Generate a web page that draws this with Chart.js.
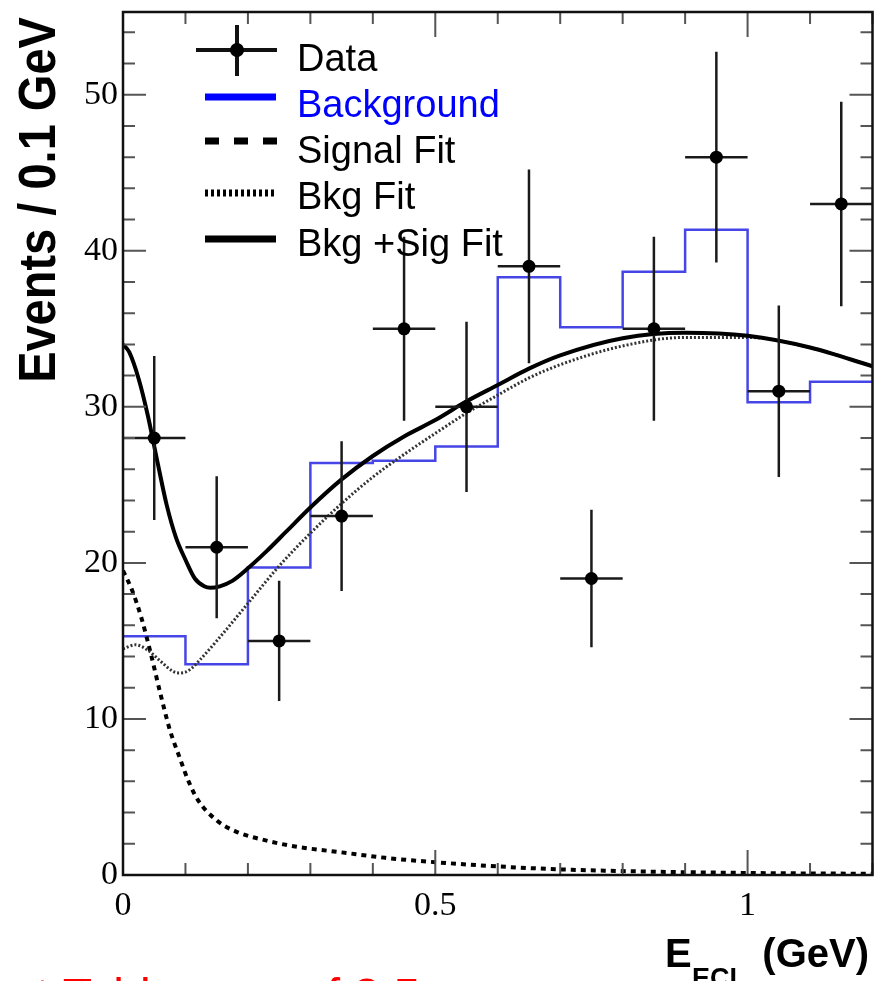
<!DOCTYPE html>
<html>
<head>
<meta charset="utf-8">
<script src="https://cdn.jsdelivr.net/npm/chart.js@4/dist/chart.umd.min.js"></script>
<style>
  html, body { margin: 0; padding: 0; background: #fff; }
  #wrap { width: 875px; height: 981px; position: relative; overflow: hidden; }
</style>
</head>
<body>
<div id="wrap"><canvas id="c" width="875" height="981"></canvas></div>
<script>
// data points (bin centres, GeV) with errors
const dataX = [0.05, 0.15, 0.25, 0.35, 0.45, 0.55, 0.65, 0.75, 0.85, 0.95, 1.05, 1.15];
const dataY = [28, 21, 15, 23, 35, 30, 39, 19, 35, 46, 31, 43];
const dataErr = [5.25, 4.55, 3.85, 4.8, 5.9, 5.45, 6.2, 4.4, 5.9, 6.75, 5.5, 6.55];
const binHalf = 0.05;

// background histogram (bin edges + contents)
const bkgEdges = [0, 0.1, 0.2, 0.3, 0.4, 0.5, 0.6, 0.7, 0.8, 0.9, 1.0, 1.1, 1.2];
const bkgHist = [15.3, 13.5, 19.7, 26.4, 26.55, 27.45, 38.3, 35.1, 38.65, 41.35, 30.3, 31.6];

// signal fit (dashed)
const sigX = [0, 0.015, 0.03, 0.045, 0.06, 0.075, 0.09, 0.105, 0.12, 0.15, 0.18, 0.23, 0.28, 0.35, 0.42, 0.5, 0.6, 0.7, 0.8, 0.9, 1.0, 1.1, 1.2];
const sigY = [19.5, 18.2, 16.4, 14.1, 11.6, 9.3, 7.6, 6.0, 4.8, 3.5, 2.8, 2.2, 1.8, 1.45, 1.1, 0.82, 0.55, 0.36, 0.25, 0.18, 0.13, 0.1, 0.08];

// bkg fit (dotted)
const bfitX = [0, 0.02, 0.04, 0.06, 0.08, 0.09, 0.1, 0.11, 0.12, 0.15, 0.2, 0.25, 0.3, 0.35, 0.4, 0.45, 0.5, 0.55, 0.6, 0.65, 0.7, 0.8, 0.9, 1.0, 1.1, 1.2];
const bfitY = [14.5, 14.75, 14.4, 13.7, 13.05, 12.95, 13.0, 13.25, 13.65, 15.0, 17.4, 19.8, 21.9, 23.8, 25.5, 26.95, 28.3, 29.6, 30.75, 31.85, 32.7, 33.9, 34.45, 34.45, 33.8, 32.6];

// bkg + sig fit (solid)
const totX = [0, 0.01, 0.025, 0.04, 0.055, 0.07, 0.085, 0.1, 0.115, 0.13, 0.14, 0.155, 0.175, 0.2, 0.23, 0.26, 0.3, 0.35, 0.4, 0.45, 0.5, 0.55, 0.6, 0.65, 0.7, 0.8, 0.9, 1.0, 1.1, 1.2];
const totY = [34.0, 33.5, 31.8, 29.4, 26.5, 23.7, 21.6, 20.2, 19.0, 18.5, 18.4, 18.5, 18.85, 19.65, 20.75, 21.95, 23.55, 25.35, 26.85, 28.1, 29.15, 30.35, 31.4, 32.45, 33.3, 34.4, 34.75, 34.55, 33.8, 32.6];

// axes
const xTicks = [0, 0.5, 1];
const yTicks = [0, 10, 20, 30, 40, 50];
const xMin = 0, xMax = 1.2, yMin = 0, yMax = 55.3;

const legendItems = ['Data', 'Background', 'Signal Fit', 'Bkg Fit', 'Bkg +Sig Fit'];

const BLUE = '#4646e6';

// build datasets from arrays
const pts = dataX.map((x, i) => ({ x: x, y: dataY[i] }));
const errs = [];
dataX.forEach((x, i) => {
  errs.push({ x: x - binHalf, y: dataY[i] }, { x: x + binHalf, y: dataY[i] }, { x: x, y: null });
  errs.push({ x: x, y: dataY[i] - dataErr[i] }, { x: x, y: dataY[i] + dataErr[i] }, { x: x, y: null });
});
const hist = bkgEdges.map((e, i) => ({ x: e, y: bkgHist[Math.min(i, bkgHist.length - 1)] }));
const toXY = (xs, ys) => xs.map((x, i) => ({ x: x, y: ys[i] }));

// kill label overhang padding so the frame sits where the reference has it
function noPad(s) {
  s.paddingLeft = 0; s.paddingRight = 0; s.paddingTop = 0; s.paddingBottom = 0;
}

// frame, ticks, titles, legend
const decor = {
  id: 'decor',
  afterDraw(chart) {
    const ctx = chart.ctx, a = chart.chartArea;
    const xs = chart.scales.x, ys = chart.scales.y;
    ctx.save();
    // ticks (ROOT style, inside, mirrored)
    ctx.strokeStyle = '#555';
    ctx.lineWidth = 2;
    ctx.beginPath();
    for (let k = 0; k <= 12; k++) {
      const v = k / 10;
      const px = xs.getPixelForValue(v);
      const len = (k % 5 === 0) ? 25 : 12;
      ctx.moveTo(px, a.bottom); ctx.lineTo(px, a.bottom - len);
      ctx.moveTo(px, a.top); ctx.lineTo(px, a.top + len);
    }
    for (let v = 0; v <= 54; v += 2) {
      const py = ys.getPixelForValue(v);
      const len = (v % 10 === 0) ? 23 : 12;
      ctx.moveTo(a.left, py); ctx.lineTo(a.left + len, py);
      ctx.moveTo(a.right, py); ctx.lineTo(a.right - len, py);
    }
    ctx.stroke();
    // frame
    ctx.strokeStyle = '#111';
    ctx.lineWidth = 2.5;
    ctx.strokeRect(a.left, a.top, a.right - a.left, a.bottom - a.top);

    // y title
    ctx.fillStyle = '#000';
    ctx.save();
    ctx.translate(55, 200);
    ctx.rotate(-Math.PI / 2);
    ctx.scale(1, 1.1);
    ctx.font = 'bold 47px "Liberation Sans", Arial, sans-serif';
    ctx.textAlign = 'center';
    ctx.textBaseline = 'alphabetic';
    ctx.fillText('Events / 0.1 GeV', 0, 0);
    ctx.restore();

    // x title with subscript
    ctx.textAlign = 'left';
    ctx.textBaseline = 'alphabetic';
    ctx.font = 'bold 40px "Liberation Sans", Arial, sans-serif';
    ctx.fillText('E', 665, 967);
    ctx.font = 'bold 27px "Liberation Sans", Arial, sans-serif';
    ctx.fillText('ECL', 692, 987);
    ctx.font = 'bold 40px "Liberation Sans", Arial, sans-serif';
    ctx.textAlign = 'right';
    ctx.fillText('(GeV)', 869, 967);

    // cut-off red caption at bottom edge
    ctx.fillStyle = '#f00';
    ctx.textAlign = 'left';
    ctx.font = '48px "Liberation Sans", Arial, sans-serif';
    ctx.fillText('t Table', 36, 1012);
    ctx.fillText('of 2.5', 300, 1012);

    // legend
    const rows = [50, 97, 141, 193, 239];
    const base = [71, 117, 163, 209, 256];
    ctx.lineCap = 'butt';
    // data cross
    ctx.strokeStyle = '#111';
    ctx.lineWidth = 4;
    ctx.beginPath();
    ctx.moveTo(196, rows[0]); ctx.lineTo(277, rows[0]);
    ctx.moveTo(237, 25); ctx.lineTo(237, 76);
    ctx.stroke();
    ctx.fillStyle = '#000';
    ctx.beginPath(); ctx.arc(237, rows[0], 7, 0, Math.PI * 2); ctx.fill();
    // background
    ctx.strokeStyle = '#0000ff';
    ctx.lineWidth = 7;
    ctx.beginPath(); ctx.moveTo(205, rows[1]); ctx.lineTo(276, rows[1]); ctx.stroke();
    // signal fit dashed
    ctx.strokeStyle = '#000';
    ctx.lineWidth = 7;
    ctx.setLineDash([14, 15]);
    ctx.beginPath(); ctx.moveTo(205, rows[2]); ctx.lineTo(277, rows[2]); ctx.stroke();
    // bkg fit dotted
    ctx.setLineDash([3, 3]);
    ctx.lineWidth = 7;
    ctx.beginPath(); ctx.moveTo(205, rows[3]); ctx.lineTo(277, rows[3]); ctx.stroke();
    // total solid
    ctx.setLineDash([]);
    ctx.lineWidth = 7;
    ctx.beginPath(); ctx.moveTo(205, rows[4]); ctx.lineTo(276, rows[4]); ctx.stroke();

    ctx.font = '38px "Liberation Sans", Arial, sans-serif';
    ctx.textAlign = 'left';
    legendItems.forEach((t, i) => {
      ctx.fillStyle = i === 1 ? '#0000ff' : '#000';
      ctx.fillText(t, 297, base[i]);
    });
    ctx.restore();
  }
};

new Chart(document.getElementById('c'), {
  type: 'scatter',
  data: {
    datasets: [
      { label: 'Data', data: pts, pointRadius: 6.5, pointHoverRadius: 6.5, pointBackgroundColor: '#000', pointBorderColor: '#000', pointBorderWidth: 0, showLine: false, order: 0 },
      { label: 'Errors', data: errs, showLine: true, spanGaps: false, borderColor: '#1a1a1a', borderWidth: 2.5, pointRadius: 0, order: 1 },
      { label: 'Bkg +Sig Fit', data: toXY(totX, totY), showLine: true, borderColor: '#000', borderWidth: 4, pointRadius: 0, cubicInterpolationMode: 'monotone', order: 2 },
      { label: 'Bkg Fit', data: toXY(bfitX, bfitY), showLine: true, borderColor: '#333', borderWidth: 3, borderDash: [2, 2], pointRadius: 0, cubicInterpolationMode: 'monotone', order: 3 },
      { label: 'Signal Fit', data: toXY(sigX, sigY), showLine: true, borderColor: '#000', borderWidth: 4, borderDash: [5, 5], pointRadius: 0, cubicInterpolationMode: 'monotone', order: 4 },
      { label: 'Background', data: hist, showLine: true, stepped: 'before', borderColor: BLUE, borderWidth: 2.5, pointRadius: 0, order: 5 }
    ]
  },
  options: {
    responsive: false,
    animation: false,
    devicePixelRatio: 1,
    layout: { autoPadding: false, padding: { left: 0, top: 12, right: 2.5, bottom: 0 } },
    plugins: { legend: { display: false }, tooltip: { enabled: false } },
    scales: {
      x: {
        type: 'linear', min: xMin, max: xMax,
        grid: { display: false, drawTicks: false },
        border: { display: false },
        afterFit(s) { noPad(s); s.height = 106; },
        afterBuildTicks(s) { s.ticks = xTicks.map(v => ({ value: v })); },
        ticks: {
          padding: 11, color: '#000', maxRotation: 0, autoSkip: false,
          font: { family: '"Liberation Serif", "Times New Roman", serif', size: 34 },
          callback: v => String(v)
        }
      },
      y: {
        type: 'linear', min: yMin, max: yMax,
        grid: { display: false, drawTicks: false },
        border: { display: false },
        afterFit(s) { noPad(s); s.width = 123; },
        afterBuildTicks(s) { s.ticks = yTicks.map(v => ({ value: v })); },
        ticks: {
          padding: 5, color: '#000', autoSkip: false,
          font: { family: '"Liberation Serif", "Times New Roman", serif', size: 34 },
          callback: v => String(v)
        }
      }
    }
  },
  plugins: [decor]
});
</script>
</body>
</html>
